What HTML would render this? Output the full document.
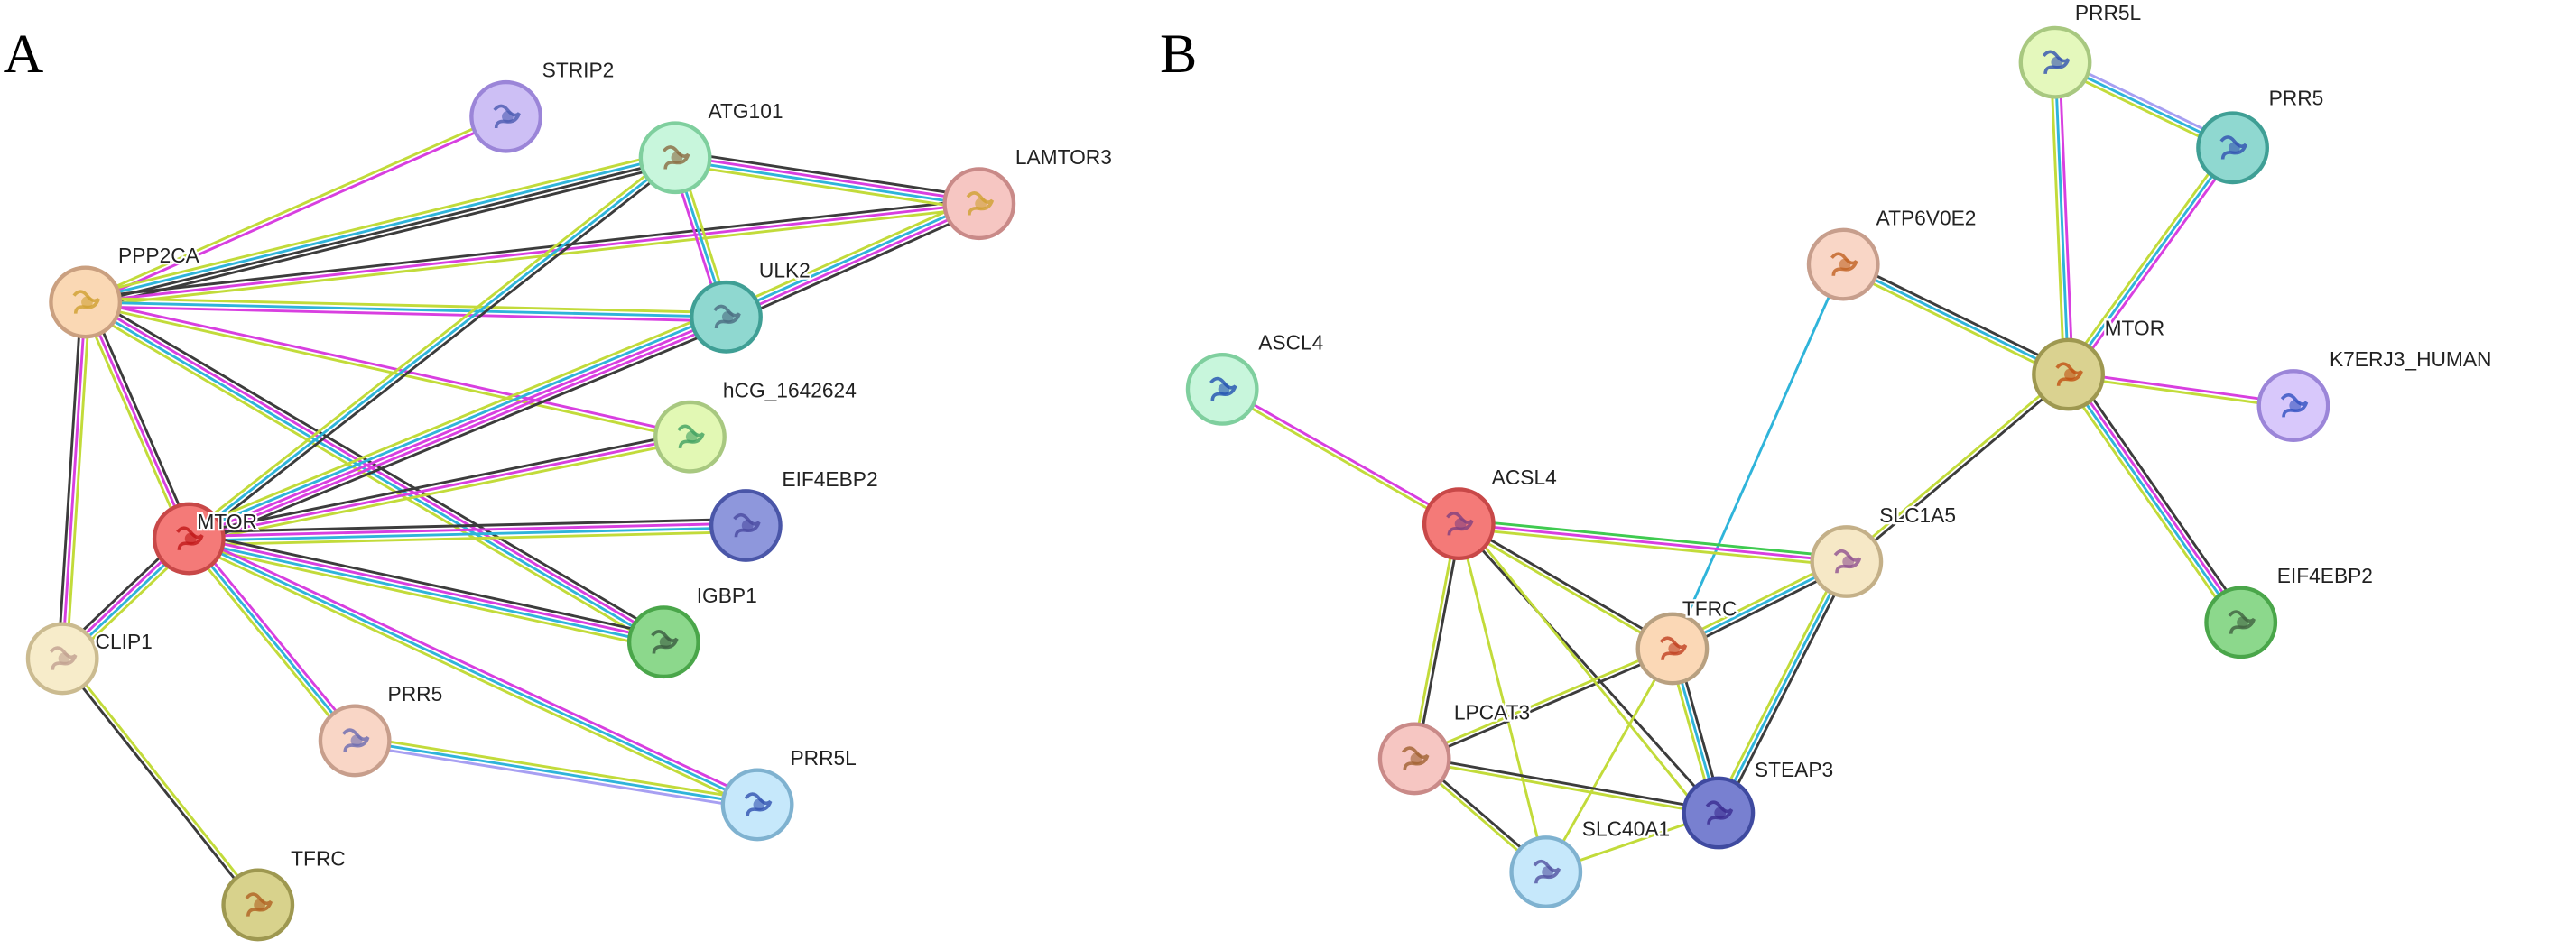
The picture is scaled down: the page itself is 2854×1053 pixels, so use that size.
<!DOCTYPE html>
<html><head><meta charset="utf-8"><style>
html,body{margin:0;padding:0;background:#fff;}
svg{display:block;}
text{font-family:"Liberation Sans",sans-serif;}
</style></head><body>
<svg id="s" width="2854" height="1053" viewBox="0 0 1568 578.5" preserveAspectRatio="none" xmlns="http://www.w3.org/2000/svg">
<rect width="1568" height="578.5" fill="#fff"/>
<g id="edges"></g><g id="nodes"></g>
<text x="2" y="44" font-family="Liberation Serif,serif" font-size="34" style="font-family:'Liberation Serif',serif">A</text>
<text x="706" y="44" font-family="Liberation Serif,serif" font-size="34" style="font-family:'Liberation Serif',serif">B</text>
</svg>
<script>
var C={l:"#c2db3a",m:"#d83fe0",c:"#2fb4da",k:"#3c3c3c",v:"#a79ff2",g:"#3fca50"};
var N={
a_STRIP2:[308,71,"#cdbff5","#9b85d8","STRIP2",22,-24,"#4a5ab0"],
a_ATG101:[411,96,"#c8f6dc","#7fcf9e","ATG101",20,-24,"#8a6a40"],
a_LAMTOR3:[596,124,"#f6c6c2","#c98a88","LAMTOR3",22,-24,"#d0a030"],
a_PPP2CA:[52,184,"#fad8b4","#caa080","PPP2CA",20,-24,"#d0a030"],
a_ULK2:[442,193,"#8fd8d0","#3f9f95","ULK2",20,-24,"#4a6a80"],
a_hCG:[420,266,"#e2f8b4","#a8c880","hCG_1642624",20,-24,"#40a060"],
a_EIF4EBP2:[454,320,"#8e97dc","#4a56a8","EIF4EBP2",22,-24,"#4a4aa0"],
a_MTOR:[115,328,"#f47a78","#c84848","MTOR",5,-6,"#c01818"],
a_IGBP1:[404,391,"#8cd88c","#4aa64a","IGBP1",20,-24,"#3a5a40"],
a_CLIP1:[38,401,"#f7ecca","#cbbb90","CLIP1",20,-6,"#c0a090"],
a_PRR5:[216,451,"#f9d6c6","#c79e8c","PRR5",20,-24,"#6a6ab0"],
a_PRR5L:[461,490,"#c6e8fb","#7fb2d0","PRR5L",20,-24,"#3050b0"],
a_TFRC:[157,551,"#d8d28c","#9e9850","TFRC",20,-24,"#b06020"],
b_PRR5L:[1251,38,"#e4f8bc","#a8c880","PRR5L",12,-26,"#3050b0"],
b_PRR5:[1359,90,"#8fd8d0","#3f9f95","PRR5",22,-26,"#3050b0"],
b_ATP:[1122,161,"#f9d6c6","#c79e8c","ATP6V0E2",20,-24,"#c06020"],
b_ASCL4:[744,237,"#c8f6dc","#7fcf9e","ASCL4",22,-24,"#2050b0"],
b_MTOR:[1259,228,"#dad290","#9e9850","MTOR",22,-24,"#c05010"],
b_K7:[1396,247,"#d8c8fb","#9b85d8","K7ERJ3_HUMAN",22,-24,"#3050c0"],
b_ACSL4:[888,319,"#f47a78","#c84848","ACSL4",20,-24,"#804080"],
b_SLC1A5:[1124,342,"#f6e8c6","#c4b088","SLC1A5",20,-24,"#905090"],
b_TFRC:[1018,395,"#fbd8b6","#b8a080","TFRC",6,-20,"#c04020"],
b_EIF:[1364,379,"#8cd88c","#4aa64a","EIF4EBP2",22,-24,"#406040"],
b_LPCAT3:[861,462,"#f6c6c2","#c98a88","LPCAT3",24,-24,"#a06030"],
b_STEAP3:[1046,495,"#7880d0","#3f4aa0","STEAP3",22,-22,"#3a2a90"],
b_SLC40A1:[941,531,"#c6e8fb","#7fb2d0","SLC40A1",22,-22,"#5050a0"]
};
var E=[
["a_PPP2CA","a_STRIP2","lm"],["a_PPP2CA","a_ATG101","lckk"],["a_PPP2CA","a_LAMTOR3","kml"],
["a_PPP2CA","a_ULK2","lcm"],["a_PPP2CA","a_hCG","ml"],["a_PPP2CA","a_IGBP1","kmcl"],
["a_PPP2CA","a_MTOR","kml"],["a_PPP2CA","a_CLIP1","lmk"],["a_ATG101","a_LAMTOR3","kmcl"],
["a_ATG101","a_ULK2","lcm"],["a_ATG101","a_MTOR","kcl"],["a_LAMTOR3","a_ULK2","kmcl"],
["a_ULK2","a_MTOR","kmmcl"],["a_MTOR","a_hCG","kml"],["a_MTOR","a_EIF4EBP2","kmcl"],
["a_MTOR","a_IGBP1","kmcl"],["a_MTOR","a_CLIP1","lcmk"],["a_MTOR","a_PRR5","mcl"],
["a_MTOR","a_PRR5L","mcl"],["a_PRR5","a_PRR5L","lcv"],["a_CLIP1","a_TFRC","lk"],
["b_PRR5L","b_PRR5","vcl"],["b_PRR5L","b_MTOR","mcl"],["b_PRR5","b_MTOR","mcl"],
["b_ATP","b_MTOR","kcl"],["b_ATP","b_TFRC","c"],["b_MTOR","b_K7","ml"],
["b_MTOR","b_EIF","kmcl"],["b_MTOR","b_SLC1A5","kl"],["b_ASCL4","b_ACSL4","ml"],
["b_ACSL4","b_SLC1A5","gml"],["b_ACSL4","b_TFRC","kl"],["b_ACSL4","b_STEAP3","k"],
["b_ACSL4","b_LPCAT3","kl"],["b_ACSL4","b_SLC40A1","l"],["b_TFRC","b_STEAP3","kcl"],
["b_SLC1A5","b_TFRC","kcl"],["b_SLC1A5","b_STEAP3","kcl"],["b_TFRC","b_LPCAT3","kl"],
["b_TFRC","b_SLC40A1","l"],["b_LPCAT3","b_STEAP3","kl"],["b_LPCAT3","b_SLC40A1","kl"],
["b_SLC40A1","b_STEAP3","l"]
];
var ns="http://www.w3.org/2000/svg",eg=document.getElementById("edges"),ng=document.getElementById("nodes");
function el(t,a,p){var e=document.createElementNS(ns,t);for(var k in a)e.setAttribute(k,a[k]);p.appendChild(e);return e;}
E.forEach(function(e){var a=N[e[0]],b=N[e[1]],cs=e[2].split("");var dx=b[0]-a[0],dy=b[1]-a[1],L=Math.hypot(dx,dy),px=-dy/L,py=dx/L,sp=2.6,n=cs.length;
cs.forEach(function(c,i){var o=(i-(n-1)/2)*sp;el("line",{x1:a[0]+px*o,y1:a[1]+py*o,x2:b[0]+px*o,y2:b[1]+py*o,stroke:C[c],"stroke-width":1.6},eg);});});
el("line",{x1:895,y1:322,x2:1030,y2:488,stroke:C.l,"stroke-width":1.6},eg);
for(var k in N){var d=N[k];
el("circle",{cx:d[0],cy:d[1],r:21,fill:d[2],stroke:d[3],"stroke-width":2.4},ng);
var g=el("g",{},ng);
el("path",{d:"M"+(d[0]-7)+" "+(d[1]-4)+" q4 -5 8 0 t7 2 q-2 6 -8 5 t-6 4",fill:"none",stroke:d[7],"stroke-width":2,opacity:0.8},g);
el("circle",{cx:d[0]+1,cy:d[1],r:3.5,fill:d[7],opacity:0.6},g);
var t=el("text",{x:d[0]+d[5],y:d[1]+d[6],"font-size":"12.5",fill:"#222",stroke:"#fff","stroke-width":2.5,"paint-order":"stroke"},ng);t.textContent=d[4];}
</script>
</body></html>
